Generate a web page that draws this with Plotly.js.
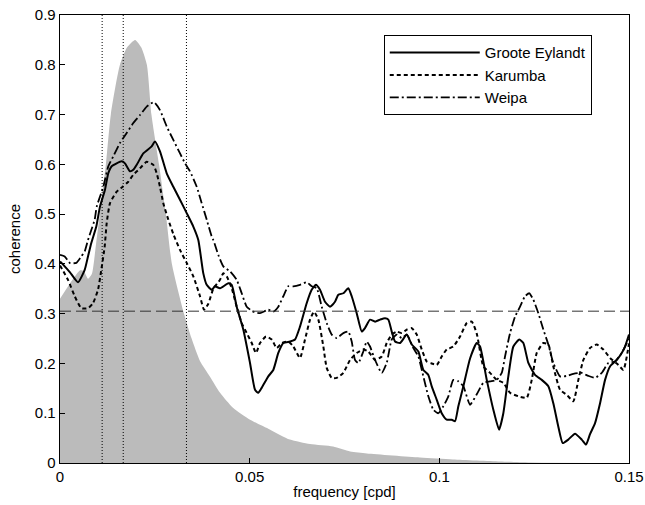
<!DOCTYPE html>
<html>
<head>
<meta charset="utf-8">
<script src="https://cdn.plot.ly/plotly-3.0.1.min.js"></script>
<style>html,body{margin:0;padding:0;background:#fff;}#chart{width:645px;height:505px;}</style>
</head>
<body>
<div id="chart"></div>
<script>
// ---- data (frequency in cpd, coherence) ----
var spectrumFreq = [0,0.0026,0.0053,0.0063,0.0074,0.0084,0.0095,0.0105,0.0121,0.0134,0.0158,0.0177,0.0198,0.0214,0.0229,0.0241,0.0261,0.0279,0.0295,0.0327,0.0347,0.0369,0.0395,0.0422,0.0456,0.0501,0.0554,0.0606,0.0659,0.072,0.0765,0.0809,0.0949,0.1036,0.116,0.124,0.15];
var spectrumVal  = [0.33,0.36,0.387,0.385,0.37,0.38,0.44,0.50,0.60,0.70,0.80,0.835,0.85,0.835,0.80,0.70,0.60,0.50,0.40,0.30,0.25,0.205,0.174,0.141,0.111,0.087,0.067,0.047,0.038,0.033,0.023,0.019,0.011,0.007,0.003,0.001,0];

var grooteFreq = [0,0.00124,0.00264,0.00474,0.00651,0.00738,0.00825,0.00957,0.01054,0.01186,0.01273,0.01363,0.01626,0.01713,0.01845,0.01932,0.02022,0.02196,0.02417,0.02504,0.02636,0.02813,0.02987,0.03163,0.0334,0.03514,0.03646,0.03778,0.03867,0.03999,0.04086,0.04218,0.04437,0.04527,0.04658,0.04832,0.05009,0.05141,0.05227,0.05317,0.05491,0.05623,0.05755,0.05887,0.06063,0.06195,0.06327,0.06503,0.06635,0.06748,0.06854,0.06986,0.07118,0.07249,0.07337,0.07469,0.076,0.0769,0.07822,0.07954,0.0804,0.08173,0.08305,0.08437,0.08568,0.08656,0.08745,0.08832,0.08964,0.09141,0.09273,0.09447,0.09578,0.0971,0.098,0.09932,0.10063,0.10195,0.10327,0.10414,0.10501,0.10633,0.1081,0.10986,0.11073,0.1125,0.11424,0.11574,0.11687,0.11819,0.11951,0.12109,0.12215,0.12347,0.12523,0.127,0.12874,0.13005,0.13137,0.13253,0.134,0.13577,0.13754,0.13867,0.13973,0.14105,0.14237,0.14369,0.145,0.14677,0.14809,0.14896,0.15];
var grooteVal  = [0.405,0.395,0.383,0.363,0.388,0.415,0.442,0.475,0.515,0.549,0.582,0.596,0.606,0.602,0.586,0.589,0.599,0.622,0.636,0.646,0.626,0.582,0.555,0.529,0.502,0.475,0.448,0.381,0.358,0.348,0.355,0.351,0.361,0.358,0.314,0.268,0.201,0.147,0.141,0.151,0.174,0.187,0.221,0.241,0.244,0.248,0.274,0.321,0.348,0.358,0.348,0.324,0.314,0.324,0.338,0.341,0.351,0.335,0.301,0.264,0.271,0.288,0.284,0.288,0.291,0.288,0.264,0.244,0.241,0.258,0.238,0.224,0.187,0.177,0.154,0.127,0.100,0.087,0.087,0.084,0.114,0.154,0.210,0.241,0.234,0.167,0.107,0.067,0.100,0.174,0.234,0.248,0.241,0.201,0.177,0.167,0.154,0.120,0.073,0.040,0.047,0.059,0.047,0.037,0.058,0.080,0.120,0.167,0.194,0.207,0.221,0.234,0.258];

var karumbaFreq = [0,0.00211,0.00388,0.00562,0.00738,0.0087,0.01002,0.01089,0.01178,0.01231,0.01318,0.01495,0.01653,0.01801,0.01932,0.02109,0.02286,0.0246,0.0255,0.02636,0.02723,0.02855,0.02987,0.03164,0.0334,0.03514,0.03691,0.03797,0.0391,0.04042,0.04218,0.04305,0.04395,0.04527,0.04658,0.0479,0.04922,0.05054,0.05167,0.05273,0.05431,0.05581,0.05713,0.05845,0.06019,0.06151,0.06327,0.06459,0.06591,0.06697,0.0681,0.06942,0.07031,0.07163,0.07295,0.07469,0.07646,0.07822,0.07996,0.08128,0.08305,0.08481,0.08613,0.08745,0.08877,0.09009,0.09141,0.09273,0.09404,0.09536,0.09668,0.098,0.09932,0.10063,0.10195,0.10369,0.10546,0.10722,0.10854,0.10986,0.1116,0.11337,0.11513,0.11687,0.11864,0.12083,0.12304,0.12436,0.12568,0.12742,0.12874,0.13005,0.13182,0.13359,0.13533,0.13665,0.13797,0.13973,0.14149,0.14324,0.145,0.1472,0.14852,0.15];
var karumbaVal  = [0.397,0.368,0.335,0.311,0.311,0.321,0.348,0.388,0.435,0.482,0.522,0.545,0.555,0.565,0.579,0.592,0.605,0.599,0.582,0.555,0.522,0.489,0.460,0.428,0.402,0.375,0.335,0.308,0.320,0.350,0.368,0.381,0.375,0.351,0.314,0.281,0.261,0.241,0.221,0.241,0.254,0.248,0.231,0.241,0.244,0.234,0.211,0.248,0.288,0.304,0.288,0.234,0.191,0.171,0.171,0.181,0.207,0.221,0.228,0.224,0.207,0.214,0.241,0.258,0.264,0.261,0.268,0.271,0.258,0.228,0.204,0.200,0.197,0.214,0.228,0.234,0.254,0.281,0.284,0.260,0.194,0.181,0.167,0.161,0.141,0.134,0.131,0.167,0.221,0.241,0.238,0.194,0.147,0.137,0.124,0.167,0.207,0.231,0.238,0.228,0.211,0.197,0.187,0.240];

var weipaFreq = [0,0.00124,0.00256,0.0043,0.00562,0.00651,0.00738,0.00825,0.00915,0.00968,0.01142,0.01273,0.01405,0.01582,0.01758,0.01932,0.02109,0.02286,0.02478,0.02636,0.02813,0.02987,0.03164,0.03296,0.03427,0.03604,0.03736,0.03867,0.03999,0.04042,0.04173,0.04305,0.04482,0.04658,0.0479,0.04922,0.05096,0.05273,0.05491,0.05623,0.05755,0.05887,0.06019,0.06151,0.06327,0.06503,0.06635,0.06768,0.069,0.07031,0.07163,0.07295,0.07469,0.076,0.0769,0.07778,0.07864,0.07996,0.08086,0.08173,0.08305,0.08481,0.08613,0.08745,0.08877,0.09009,0.09141,0.09315,0.09447,0.09578,0.0971,0.09842,0.09974,0.10106,0.10237,0.10369,0.10501,0.10633,0.1081,0.10986,0.1116,0.11337,0.11513,0.11645,0.11732,0.11864,0.11996,0.12128,0.12259,0.12373,0.12478,0.1261,0.12742,0.12874,0.13005,0.13182,0.13359,0.13533,0.13754,0.13928,0.14105,0.14281,0.14456,0.14632,0.14809,0.14941,0.15];
var weipaVal  = [0.418,0.415,0.402,0.402,0.415,0.425,0.448,0.468,0.489,0.515,0.555,0.596,0.616,0.643,0.663,0.683,0.699,0.716,0.725,0.709,0.676,0.649,0.622,0.602,0.586,0.555,0.522,0.489,0.455,0.448,0.418,0.395,0.385,0.368,0.341,0.314,0.304,0.301,0.308,0.304,0.314,0.335,0.355,0.355,0.358,0.363,0.355,0.351,0.314,0.281,0.258,0.251,0.261,0.264,0.244,0.207,0.201,0.224,0.244,0.234,0.207,0.181,0.201,0.248,0.258,0.251,0.258,0.231,0.214,0.174,0.134,0.107,0.100,0.114,0.134,0.167,0.164,0.154,0.117,0.138,0.161,0.164,0.167,0.181,0.214,0.261,0.294,0.314,0.335,0.341,0.328,0.301,0.268,0.238,0.201,0.174,0.175,0.179,0.181,0.175,0.171,0.181,0.201,0.204,0.221,0.241,0.25];

var seriesNames = ["Groote Eylandt", "Karumba", "Weipa"];
var periodDays = [90, 60, 30];        // vertical markers at 1/period
var significance = 0.305;             // horizontal significance level
var yTicks = [0,0.1,0.2,0.3,0.4,0.5,0.6,0.7,0.8,0.9];
var yTickText = ["0","0.1","0.2","0.3","0.4","0.5","0.6","0.7","0.8","0.9"];
var xTicks = [0,0.05,0.1,0.15];
var xTickText = ["0","0.05","0.1","0.15"];

var FONT = "Liberation Sans, Arial, Helvetica, sans-serif";

var traces = [
  {x: spectrumFreq, y: spectrumVal, type: "scatter", mode: "lines", fill: "tozeroy",
   fillcolor: "#bbbbbb", line: {width: 0, color: "#bbbbbb", shape: "spline", smoothing: 0.6},
   showlegend: false, hoverinfo: "skip"},
  {x: grooteFreq, y: grooteVal, type: "scatter", mode: "lines", name: seriesNames[0],
   line: {color: "#000", width: 2, shape: "spline", smoothing: 0.5}},
  {x: karumbaFreq, y: karumbaVal, type: "scatter", mode: "lines", name: seriesNames[1],
   line: {color: "#000", width: 2, dash: "4px,3px", shape: "spline", smoothing: 0.5}},
  {x: weipaFreq, y: weipaVal, type: "scatter", mode: "lines", name: seriesNames[2],
   line: {color: "#000", width: 1.8, dash: "9px,3px,2px,3px", shape: "spline", smoothing: 0.5}}
];

var shapes = periodDays.map(function (p) {
  return {type: "line", xref: "x", yref: "paper", x0: 1 / p, x1: 1 / p, y0: 0, y1: 1,
          line: {color: "#000", width: 1, dash: "1px,2px"}, layer: "above"};
});
shapes.push({type: "line", xref: "paper", yref: "y", x0: 0, x1: 1, y0: significance, y1: significance,
             line: {color: "#333", width: 1, dash: "11px,5px"}, layer: "above"});

var layout = {
  width: 645, height: 505,
  margin: {l: 60, r: 16, t: 15, b: 42, pad: 0},
  paper_bgcolor: "#fff", plot_bgcolor: "#fff",
  font: {family: FONT, size: 15, color: "#000"},
  showlegend: true,
  legend: {x: 0.569, y: 0.955, xanchor: "left", yanchor: "top",
           bgcolor: "#fff", bordercolor: "#000", borderwidth: 1,
           font: {family: FONT, size: 15, color: "#000"}, itemwidth: 90},
  xaxis: {range: [0, 0.15], tickvals: xTicks, ticktext: xTickText,
          ticks: "inside", ticklen: 5, tickcolor: "#000", tickwidth: 1,
          tickfont: {family: FONT, size: 15},
          showline: true, linecolor: "#000", linewidth: 1.3, mirror: true,
          showgrid: false, zeroline: false,
          title: {text: "frequency [cpd]", font: {family: FONT, size: 15}, standoff: 2}},
  yaxis: {range: [0, 0.9], tickvals: yTicks, ticktext: yTickText,
          ticks: "inside", ticklen: 5, tickcolor: "#000", tickwidth: 1,
          tickfont: {family: FONT, size: 15},
          showline: true, linecolor: "#000", linewidth: 1.3, mirror: true,
          showgrid: false, zeroline: false,
          title: {text: "coherence", font: {family: FONT, size: 15}, standoff: 10}},
  shapes: shapes
};

Plotly.newPlot("chart", traces, layout, {displayModeBar: false, staticPlot: true});
</script>
</body>
</html>
